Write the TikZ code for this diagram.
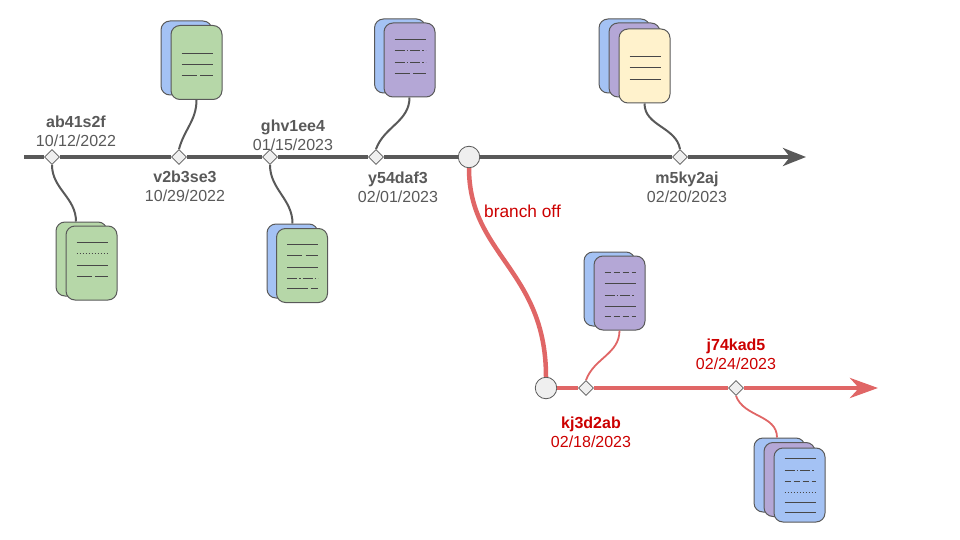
\documentclass[tikz,border=0pt]{standalone}
\usepackage{fontspec}
\setmainfont{Liberation Sans}
\usetikzlibrary{shapes,arrows.meta,calc}
\definecolor{darkgrey}{HTML}{595959}
\definecolor{softred}{HTML}{E06666}
\definecolor{deepred}{HTML}{CC0000}
\definecolor{knob}{HTML}{EFEFEF}
\definecolor{pblue}{HTML}{A4C2F4}
\definecolor{pgreen}{HTML}{B6D7A8}
\definecolor{ppurple}{HTML}{B4A7D6}
\definecolor{pyellow}{HTML}{FFF2CC}
\tikzset{
	commit/.style   = {draw=darkgrey, fill=knob, diamond, inner sep=0pt, minimum size=15pt, line width=.8pt},
	fork/.style     = {draw=darkgrey, fill=knob, circle, inner sep=0pt, minimum size=21.5pt, line width=.8pt},
	page/.style     = {draw=darkgrey, rectangle, rounded corners=9pt, inner sep=0pt,
		minimum width=51pt, minimum height=74pt, line width=1pt},
	tag/.style      = {text=darkgrey, align=center, inner sep=0pt, font=\fontsize{16}{18.6}\selectfont},
	redtag/.style   = {tag, text=deepred},
	trunk/.style    = {draw=darkgrey, line width=4.5pt},
	branch/.style   = {draw=softred, line width=4.5pt},
	twig/.style     = {draw=darkgrey, line width=2pt},
	redtwig/.style  = {draw=softred, line width=1.8pt},
	bighead/.style  = {-{Stealth[length=23pt,width=18pt,inset=7pt]}},
	redhead/.style  = {-{Stealth[length=28pt,width=20pt,inset=9pt]}},
	solidln/.style  = {draw=darkgrey!80!black, line width=.9pt},
	dashln/.style   = {solidln, dash pattern=on 15pt off 3.5pt},
	shortln/.style  = {solidln, dash pattern=on 6pt off 3pt},
	dotln/.style    = {solidln, line width=.7pt, dash pattern=on 1.5pt off 1.5pt},
	dotdashln/.style = {solidln, line width=.8pt, dash pattern=on 10pt off 2pt on 1.5pt off 2pt},
	longln/.style   = {solidln, dash pattern=on 21pt off 2.5pt}
}
% lines of text on the front page of a stack
\newcommand{\pagelines}[2]{
	\foreach \yy/\ln in {#2}
		\draw[\ln] ([shift={(11,\yy)}]#1.north west) -- ([shift={(42,\yy)}]#1.north west);
}

\begin{document}
\begin{tikzpicture}[x=1pt, y=-1pt, >=latex]
	\useasboundingbox (0,0) rectangle (960,540);

	\coordinate (start) at (24,157);
	\coordinate (tip) at (806,157);
	\coordinate (redtip) at (878,388);

	\node at (52,157) [commit] (c1) {};
	\node at (179,157) [commit] (c2) {};
	\node at (270,157) [commit] (c3) {};
	\node at (376,157) [commit] (c4) {};
	\node at (469,157) [fork] (f1) {};
	\node at (680,157) [commit] (c5) {};
	\node at (546,388) [fork] (f2) {};
	\node at (586,388) [commit] (c6) {};
	\node at (736,388) [commit] (c7) {};

	\draw[trunk](start)--(c1);
	\draw[trunk](c1)--(c2);
	\draw[trunk](c2)--(c3);
	\draw[trunk](c3)--(c4);
	\draw[trunk](c4)--(f1);
	\draw[trunk](f1)--(c5);
	\draw[trunk,bighead](c5)--(tip);
	\draw[branch](f1.south) .. controls (469,255) and (546,270) .. (f2.north);
	\draw[branch](f2)--(c6);
	\draw[branch](c6)--(c7);
	\draw[branch,redhead](c7)--(redtip);

	% stacks below and above the trunk
	\node at (81.5,259) [page, fill=pgreen] (a1) {};
	\node at (91.5,263) [page, fill=pgreen] (a2) {};
	\node at (186.5,58) [page, fill=pblue] (b1) {};
	\node at (196.5,62.5) [page, fill=pgreen] (b2) {};
	\node at (292.5,261) [page, fill=pblue] (g1) {};
	\node at (302,265.5) [page, fill=pgreen] (g2) {};
	\node at (400,56) [page, fill=pblue] (y1) {};
	\node at (409.5,60) [page, fill=ppurple] (y2) {};
	\node at (624.5,56) [page, fill=pblue] (m1) {};
	\node at (634.5,60) [page, fill=ppurple] (m2) {};
	\node at (644.5,66) [page, fill=pyellow] (m3) {};
	\node at (609.5,289) [page, fill=pblue] (k1) {};
	\node at (619.5,293) [page, fill=ppurple] (k2) {};
	\node at (779.5,475) [page, fill=pblue] (j1) {};
	\node at (789.5,479.5) [page, fill=ppurple] (j2) {};
	\node at (799.5,485) [page, fill=pblue] (j3) {};

	\pagelines{a2}{17/solidln,28/dotln,40/solidln,51/dashln}
	\pagelines{b2}{28/solidln,39/solidln,50/dashln}
	\pagelines{g2}{16/solidln,27/dashln,39/solidln,50/dotdashln,60/longln}
	\pagelines{y2}{17/solidln,28/dotdashln,40/dotdashln,51/dashln}
	\pagelines{m3}{28/solidln,39/solidln,51/solidln}
	\pagelines{k2}{17/shortln,28/solidln,40/dotdashln,51/solidln,61/shortln}
	\pagelines{j3}{11/solidln,23/dotdashln,34/shortln,45/dotln,55/solidln,65/solidln}

	\draw[twig](c1.south) to[out=-90,in=90] ([xshift=-5.5pt]a1.north);
	\draw[twig](b2.south) to[out=-90,in=75] (c2.north);
	\draw[twig](c3.south) to[out=-90,in=90] (g1.north);
	\draw[twig](y2.south) to[out=-90,in=70] (c4.north);
	\draw[twig](m3.south) to[out=-90,in=100] (c5.north);
	\draw[redtwig](k2.south) to[out=-90,in=70] (c6.north);
	\draw[redtwig](c7.south) to[out=-70,in=90] ([xshift=-2.5pt]j1.north);

	\node at (76,131) [tag] (t1) {\textbf{ab41s2f}\\10/12/2022};
	\node at (185,186) [tag] (t2) {\textbf{v2b3se3}\\10/29/2022};
	\node at (293,135) [tag] (t3) {\textbf{ghv1ee4}\\01/15/2023};
	\node at (398,187) [tag] (t4) {\textbf{y54daf3}\\02/01/2023};
	\node at (687,187) [tag] (t5) {\textbf{m5ky2aj}\\02/20/2023};
	\node at (591,432) [redtag] (t6) {\textbf{kj3d2ab}\\02/18/2023};
	\node at (736,354) [redtag] (t7) {\textbf{j74kad5}\\02/24/2023};
	\node at (522.5,211) [redtag, font=\fontsize{17.3}{20}\selectfont] (off) {branch off};
\end{tikzpicture}
\end{document}
